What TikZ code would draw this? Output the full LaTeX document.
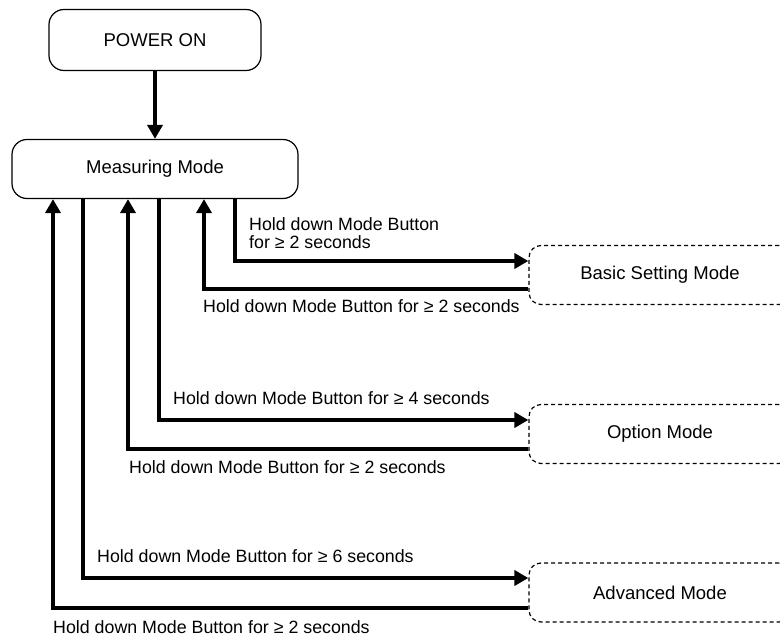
\documentclass[tikz,border=0pt]{standalone}
\usepackage{fontspec}
\setmainfont{Liberation Sans}
\usetikzlibrary{arrows.meta}

\begin{document}
\begin{tikzpicture}[x=1pt, y=-1pt, font=\fontsize{17.8}{18}\selectfont,
		modebox/.style={draw, line width=1.2pt, rounded corners=15pt, inner sep=0pt, font=\fontsize{18.5}{20}\selectfont},
		subbox/.style={draw, line width=1.2pt, dash pattern=on 4pt off 3pt, rounded corners=12pt,
			minimum width=262pt, minimum height=59pt, inner sep=0pt, font=\fontsize{18.5}{20}\selectfont},
		flow/.style={-{Triangle[length=14pt, width=15pt]}, line width=3.5pt},
		lbl/.style={inner sep=0pt, anchor=base west}]
			\useasboundingbox (0,0) rectangle (780,639);
			\clip (0,0) rectangle (780,639);
			% main boxes
			\node[modebox, minimum width=212pt, minimum height=61pt] (power) at (155,40) {POWER ON};
			\node[modebox, minimum width=286pt, minimum height=59pt] (measure) at (155,169) {Measuring Mode};
			% sub modes (cut at the right edge)
			\node[subbox] (basic) at (660,275) {Basic Setting Mode};
			\node[subbox] (option) at (660,434) {Option Mode};
			\node[subbox] (advanced) at (660,592.5) {Advanced Mode};
			% arrows
			\draw[flow] (power) -- (measure);
			\draw[flow] ([xshift=80pt]measure.south) |- ([yshift=14pt]basic.west);
			\draw[flow] ([yshift=-14pt]basic.west) -| ([xshift=49pt]measure.south);
			\draw[flow] ([xshift=4pt]measure.south) |- ([yshift=14pt]option.west);
			\draw[flow] ([yshift=-15pt]option.west) -| ([xshift=-27pt]measure.south);
			\draw[flow] ([xshift=-72pt]measure.south) |- ([yshift=14.5pt]advanced.west);
			\draw[flow] ([yshift=-15.5pt]advanced.west) -| ([xshift=-102pt]measure.south);
			% labels
			\node[lbl, anchor=north west, align=left] (hold2a) at (249,217) {Hold down Mode Button\\for ≥ 2 seconds};
			\node[lbl] (hold2b) at (203,313) {Hold down Mode Button for ≥ 2 seconds};
			\node[lbl] (hold4) at (173,404) {Hold down Mode Button for ≥ 4 seconds};
			\node[lbl] (hold2c) at (129,473) {Hold down Mode Button for ≥ 2 seconds};
			\node[lbl] (hold6) at (97,562) {Hold down Mode Button for ≥ 6 seconds};
			\node[lbl] (hold2d) at (53,633) {Hold down Mode Button for ≥ 2 seconds};
		\end{tikzpicture}
\end{document}
